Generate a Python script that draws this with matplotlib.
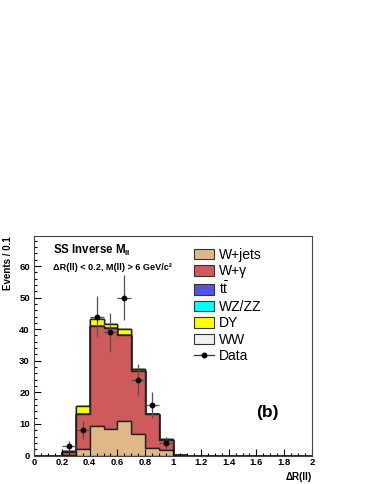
import numpy as np
import matplotlib
matplotlib.use("Agg")
import matplotlib.pyplot as plt
from matplotlib.patches import Patch
from matplotlib.lines import Line2D
from matplotlib.ticker import MultipleLocator, FuncFormatter

plt.rcParams['font.family'] = ['Liberation Sans', 'DejaVu Sans']
plt.rcParams['mathtext.fontset'] = 'custom'
plt.rcParams['mathtext.rm'] = 'Liberation Sans'
plt.rcParams['mathtext.bf'] = 'Liberation Sans:bold'

# binning of Delta R(ll), 0.1 wide
bin_edges = np.round(np.arange(0, 2.01, 0.1), 2)
bin_centers = bin_edges[:-1] + 0.05

# stacked backgrounds (events per bin), first 11 bins, rest are empty
wjets = [0, 0, 0.1, 1.9, 9.2, 8.5, 11.0, 6.7, 2.4, 1.8, 0.1]
wgamma = [0, 0, 1.1, 11.3, 31.8, 32.0, 27.0, 20.1, 10.6, 3.2, 0.2]
ttbar = [0, 0, 0, 0, 0, 0, 0, 0, 0, 0, 0]
wzzz = [0, 0, 0, 0, 0.05, 0, 0.05, 0, 0, 0, 0]
dy = [0, 0, 0.1, 2.4, 2.3, 1.0, 2.0, 0.7, 0.1, 0.1, 0]
ww = [0, 0, 0, 0, 0, 0, 0, 0, 0, 0, 0]

samples = ["W+jets", "W+\u03b3", "t$\\bar{\\mathrm{t}}$", "WZ/ZZ", "DY", "WW"]
colors = ["#DEB987", "#CF5A5C", "#5454DC", "#00FFFF", "#FFFF00", "#F0F0F0"]

# data points
data_x = [0.25, 0.35, 0.45, 0.55, 0.65, 0.75, 0.85, 0.95]
data_y = [3, 8, 44, 39, 50, 24, 16, 4]

def pad(vals):
    return list(vals) + [0] * (len(bin_centers) - len(vals))

stack = [pad(v) for v in [wjets, wgamma, ttbar, wzzz, dy, ww]]

fig = plt.figure(figsize=(3.74, 4.84), dpi=100)
ax = fig.add_axes([34 / 374, 28.5 / 484, 278 / 374, 219.5 / 484])

ax.hist([bin_centers] * len(stack), bins=bin_edges, weights=stack, stacked=True,
        histtype='stepfilled', color=colors, edgecolor='#222222', linewidth=1.0)

ax.errorbar(data_x, data_y, yerr=np.sqrt(data_y), xerr=0.05, fmt='o', color='black',
            ms=3.2, ecolor='#505050', elinewidth=0.9, capsize=0, zorder=5)

ax.set_xlim(0, 2)
ax.set_ylim(0, 69.5)
ax.xaxis.set_major_locator(MultipleLocator(0.2))
ax.xaxis.set_minor_locator(MultipleLocator(0.05))
ax.yaxis.set_major_locator(MultipleLocator(10))
ax.yaxis.set_minor_locator(MultipleLocator(2))
ax.xaxis.set_major_formatter(FuncFormatter(lambda v, p: "%g" % round(v, 2)))
ax.tick_params(which='both', direction='in', top=False, right=False, labelsize=6.8)
ax.tick_params(which='major', length=5, width=0.8)
ax.tick_params(which='minor', length=2.5, width=0.8)
ax.tick_params(axis='x', pad=1.5)
ax.tick_params(axis='y', pad=3)
for lab in ax.get_xticklabels() + ax.get_yticklabels():
    lab.set_fontweight('bold')
for sp in ax.spines.values():
    sp.set_linewidth(0.8)
    sp.set_color('#444444')

ax.set_ylabel("Events / 0.1", loc='top', fontsize=7, fontweight='bold')
ax.yaxis.set_label_coords(-0.075, 1.0)
ax.set_xlabel("\u0394R(ll)", loc='right', fontsize=7, fontweight='bold')
ax.xaxis.set_label_coords(1.0, -0.073)

ax.text(0.068, 0.917, "SS Inverse M$_{\\mathbf{ll}}$", transform=ax.transAxes,
        fontsize=8.3, fontweight='bold', va='baseline')
ax.text(0.068, 0.845, "\u0394R(ll) < 0.2, M(ll) > 6 GeV/c\u00b2", transform=ax.transAxes,
        fontsize=6.6, fontweight='bold', va='baseline')
ax.text(0.80, 0.174, "(b)", transform=ax.transAxes, fontsize=12.5,
        fontweight='bold', va='baseline')

handles = [Patch(facecolor=c, edgecolor='#333333', linewidth=0.8) for c in colors]
handles.append(Line2D([], [], color='#333333', lw=0.9, marker='o', ms=3.2,
                      markerfacecolor='black', markeredgecolor='black'))
labels = samples + ["Data"]
ax.legend(handles, labels, loc='upper left', bbox_to_anchor=(0.5755, 0.947),
          frameon=False, fontsize=10, borderpad=0, borderaxespad=0,
          handlelength=1.44, handleheight=0.79, handletextpad=0.35,
          labelspacing=0.18)

fig.savefig("out.png", dpi=100)
